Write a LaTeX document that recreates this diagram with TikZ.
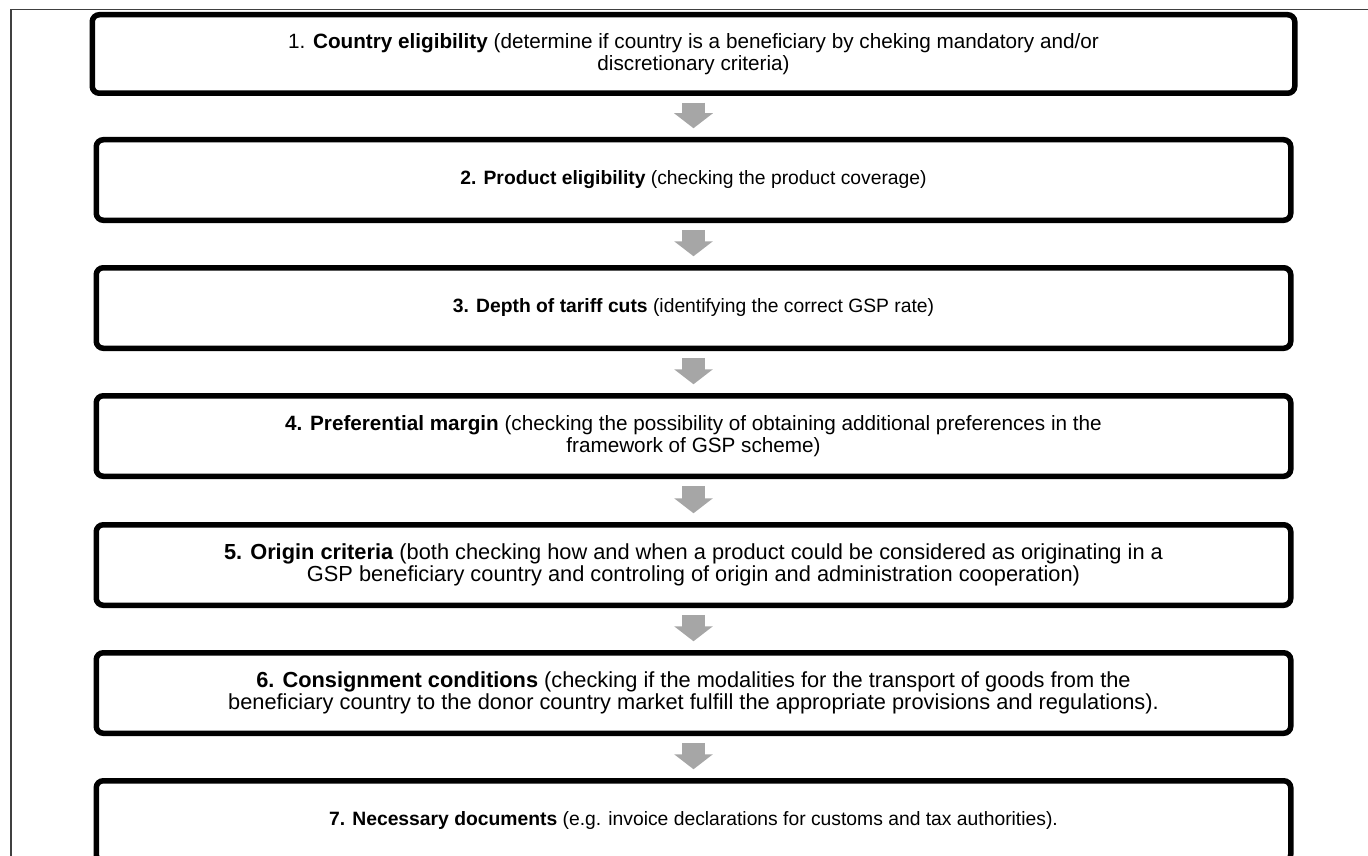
\documentclass[tikz,border=0pt]{standalone}
\usepackage{fontspec}
\setmainfont{Liberation Sans}
\usetikzlibrary{arrows.meta}
\begin{document}
\begin{tikzpicture}[x=1pt,y=1pt,
    stage/.style={draw, line width=5.5pt, rounded corners=7pt, minimum width=1194.5pt, minimum height=80.5pt,
      inner sep=0pt, align=center, font=\fontsize{19.3}{22}\selectfont},
    widetext/.style={font=\fontsize{20.7}{22}\selectfont},
    widertext/.style={font=\fontsize{21.8}{22}\selectfont},
    flowarrow/.style={draw=gray!70, line width=23pt, -{Triangle[width=38pt,length=15pt]},
      shorten <=6.75pt, shorten >=8.75pt}]
    \useasboundingbox (0,0) rectangle (1368,-856);
    \clip (0,0) rectangle (1368,-856);
    \draw[line width=1.2pt, black!75] (11,-856) -- (11,-9.5) -- (1368,-9.5);
    \node[stage, widetext, minimum width=1202.5pt, minimum height=78.5pt] (c1) at (693.5,-54) {1. \textbf{Country eligibility} (determine if country is a beneficiary by cheking mandatory and/or\\discretionary criteria)};
    \node[stage] (c2) at (693.5,-180) {\textbf{2. Product eligibility} (checking the product coverage)};
    \node[stage] (c3) at (693.5,-308) {\textbf{3. Depth of tariff cuts} (identifying the correct GSP rate)};
    \node[stage, widetext] (c4) at (693.5,-436) {\textbf{4. Preferential margin} (checking the possibility of obtaining additional preferences in the\\framework of GSP scheme)};
    \node[stage, widertext] (c5) at (693.5,-565) {\textbf{5. Origin criteria} (both checking how and when a product could be considered as originating in a\\GSP beneficiary country and controling of origin and administration cooperation)};
    \node[stage, widertext] (c6) at (693.5,-693) {\textbf{6. Consignment conditions} (checking if the modalities for the transport of goods from the\\beneficiary country to the donor country market fulfill the appropriate provisions and regulations).};
    \node[stage] (c7) at (693.5,-821) {\textbf{7. Necessary documents} (e.g. invoice declarations for customs and tax authorities).};
    \path (c1) edge[flowarrow] (c2);
    \path (c2) edge[flowarrow] (c3);
    \path (c3) edge[flowarrow] (c4);
    \path (c4) edge[flowarrow] (c5);
    \path (c5) edge[flowarrow] (c6);
    \path (c6) edge[flowarrow] (c7);
\end{tikzpicture}
\end{document}
